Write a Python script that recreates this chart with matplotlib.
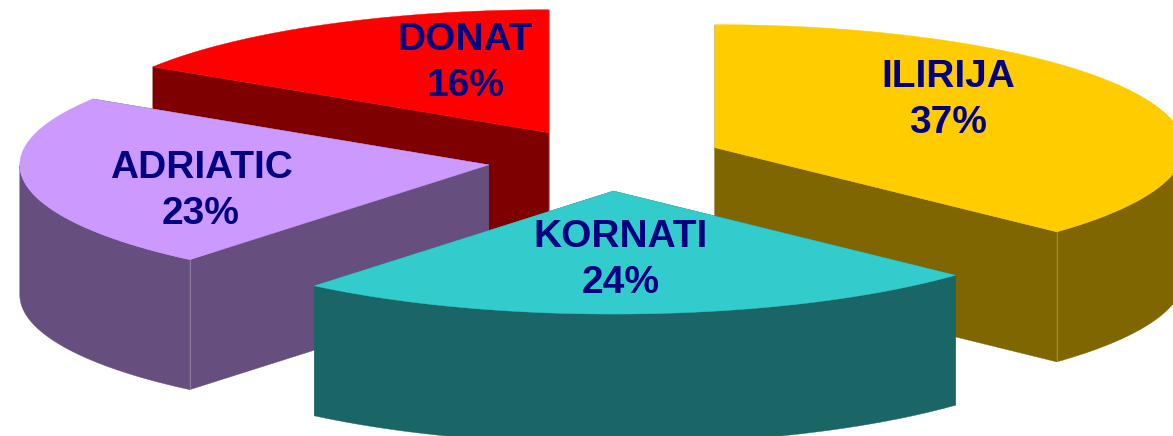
"""Exploded 3D-style pie of brand shares, projected by hand onto a flat axes."""

import matplotlib
matplotlib.use("Agg")

import matplotlib.pyplot as plt
import numpy as np
from matplotlib.patches import Polygon

LABELS = ["ILIRIJA", "KORNATI", "ADRIATIC", "DONAT"]
SHARES = [37, 24, 23, 16]

TOP_COLORS = ["#ffcc00", "#33cccc", "#cc99ff", "#ff0000"]
SIDE_COLORS = ["#806600", "#1a6666", "#664f7f", "#7f0000"]
DRAW_ORDER = [3, 2, 0, 1]

CX, CY = 606, 160
RX, RY = 469, 123
DEPTH = 130
EXPLODE = 0.253
LABEL_CENTERS = [(948, 100), (621, 260), (201, 191), (465, 63)]


def project(theta):
    """Clockwise angle from 12 o'clock (radians) to a point on the rim."""
    return RX * np.sin(theta), -RY * np.cos(theta)


def draw_slice(ax, start, end, top, side, zorder):
    dx, dy = project((start + end) / 2)
    apex = np.array([CX + EXPLODE * dx, CY + EXPLODE * dy])

    theta = np.linspace(start, end, 120)
    rx, ry = project(theta)
    rim = apex + np.column_stack([rx, ry])
    down = np.array([0, DEPTH])

    # cut faces first, they sit behind the outer wall
    for p in (rim[0], rim[-1]):
        face = [apex, p, p + down, apex + down]
        ax.add_patch(Polygon(face, closed=True, fc=side, ec=side, lw=0.3, zorder=zorder))

    # outer wall, only the part of the rim that faces the viewer
    front = (theta >= np.pi / 2) & (theta <= 3 * np.pi / 2)
    if front.any():
        wall = np.vstack([rim[front], rim[front][::-1] + down])
        ax.add_patch(Polygon(wall, closed=True, fc=side, ec=side, lw=0.3, zorder=zorder + 0.1))

    # faint seam where a visible cut face meets the wall
    seams = []
    if np.pi / 2 < end < np.pi:
        seams.append(rim[-1])
    if np.pi < start < 3 * np.pi / 2:
        seams.append(rim[0])
    for p in seams:
        ax.plot([p[0], p[0]], [p[1], p[1] + DEPTH], color="#ffffff", lw=0.6,
                alpha=0.3, zorder=zorder + 0.15)

    ax.add_patch(Polygon(np.vstack([apex, rim]), closed=True, fc=top, ec=top, lw=0.3,
                         zorder=zorder + 0.2))


def main():
    fig = plt.figure(figsize=(11.73, 4.36), dpi=100)
    ax = fig.add_axes([0, 0, 1, 1])
    ax.set_xlim(0, 1173)
    ax.set_ylim(436, 0)
    ax.axis("off")

    edges = np.deg2rad(np.cumsum([0] + SHARES) * 3.6)
    for z, i in enumerate(DRAW_ORDER):
        draw_slice(ax, edges[i], edges[i + 1], TOP_COLORS[i], SIDE_COLORS[i], z + 1)

    for i, label in enumerate(LABELS):
        x, y = LABEL_CENTERS[i]
        ax.text(x, y, f"{label}\n{SHARES[i]}%", ha="center", va="center",
                fontsize=28, fontweight="bold", family="Liberation Sans",
                color="#000080", linespacing=1.39, zorder=10)

    fig.savefig("out.png", dpi=100)


if __name__ == "__main__":
    main()
